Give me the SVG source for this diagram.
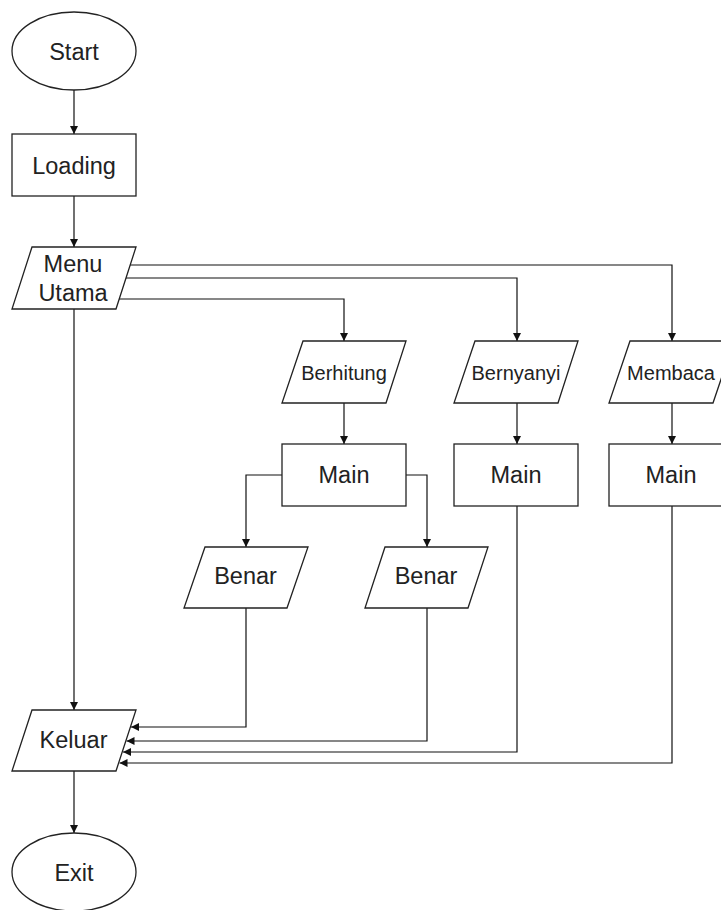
<svg xmlns="http://www.w3.org/2000/svg" width="721" height="910" viewBox="0 0 721 910">
<style>
.s{fill:#fff;stroke:#222;stroke-width:1.3}
.c{fill:none;stroke:#111;stroke-width:1.2}
.t{font-family:"Liberation Sans",Arial,sans-serif;font-size:23.5px;fill:#222;text-anchor:middle}
.m{font-family:"Liberation Sans",Arial,sans-serif;font-size:20px;fill:#222;text-anchor:middle}
</style>
<defs>
<marker id="a" viewBox="0 0 10 10" refX="10" refY="5" markerWidth="8" markerHeight="8" markerUnits="userSpaceOnUse" orient="auto">
<path d="M0,0 L10,5 L0,10 z" fill="#111"/>
</marker>
</defs>
<rect width="721" height="910" fill="#fff"/>
<g id="connectors">
<path class="c" d="M74,90 V134" marker-end="url(#a)"/>
<path class="c" d="M74,196 V247" marker-end="url(#a)"/>
<path class="c" d="M130,265 H672 V341" marker-end="url(#a)"/>
<path class="c" d="M126,278 H517 V341" marker-end="url(#a)"/>
<path class="c" d="M119,299 H344 V341" marker-end="url(#a)"/>
<path class="c" d="M74,309 V710" marker-end="url(#a)"/>
<path class="c" d="M344,403 V444" marker-end="url(#a)"/>
<path class="c" d="M517,403 V444" marker-end="url(#a)"/>
<path class="c" d="M672,403 V444" marker-end="url(#a)"/>
<path class="c" d="M282,475 H246 V547" marker-end="url(#a)"/>
<path class="c" d="M406,475 H427 V547" marker-end="url(#a)"/>
<path class="c" d="M246,608 V727 H131" marker-end="url(#a)"/>
<path class="c" d="M427,608 V741 H126.5" marker-end="url(#a)"/>
<path class="c" d="M517,506 V752 H123" marker-end="url(#a)"/>
<path class="c" d="M672,506 V763 H119.5" marker-end="url(#a)"/>
<path class="c" d="M74,771 V833" marker-end="url(#a)"/>
</g>
<g id="start"><ellipse class="s" cx="74" cy="51" rx="62" ry="39"/><text class="t" x="74" y="60">Start</text></g>
<g id="loading"><rect class="s" x="12" y="134" width="124" height="62"/><text class="t" x="74" y="174">Loading</text></g>
<g id="menu"><polygon class="s" points="32,247 136,247 116,309 12,309"/><text class="t" x="73" y="272">Menu</text><text class="t" x="73" y="301">Utama</text></g>
<g id="berhitung"><polygon class="s" points="303,341 406,341 386,403 282,403"/><text class="m" x="344" y="380">Berhitung</text></g>
<g id="bernyanyi"><polygon class="s" points="475,341 578,341 558,403 454,403"/><text class="m" x="516" y="380">Bernyanyi</text></g>
<g id="membaca"><polygon class="s" points="630,341 734,341 713,403 609,403"/><text class="m" x="671" y="380">Membaca</text></g>
<g id="main1"><rect class="s" x="282" y="444" width="124" height="62"/><text class="t" x="344" y="483">Main</text></g>
<g id="main2"><rect class="s" x="454" y="444" width="124" height="62"/><text class="t" x="516" y="483">Main</text></g>
<g id="main3"><rect class="s" x="609" y="444" width="124" height="62"/><text class="t" x="671" y="483">Main</text></g>
<g id="benar1"><polygon class="s" points="205,547 308,547 287,608 184,608"/><text class="t" x="245.5" y="584">Benar</text></g>
<g id="benar2"><polygon class="s" points="385,547 488,547 468,608 365,608"/><text class="t" x="426" y="584">Benar</text></g>
<g id="keluar"><polygon class="s" points="32,710 136,710 116,771 12,771"/><text class="t" x="73.5" y="748">Keluar</text></g>
<g id="exit"><ellipse class="s" cx="74" cy="872" rx="62" ry="39"/><text class="t" x="74" y="881">Exit</text></g>
</svg>
